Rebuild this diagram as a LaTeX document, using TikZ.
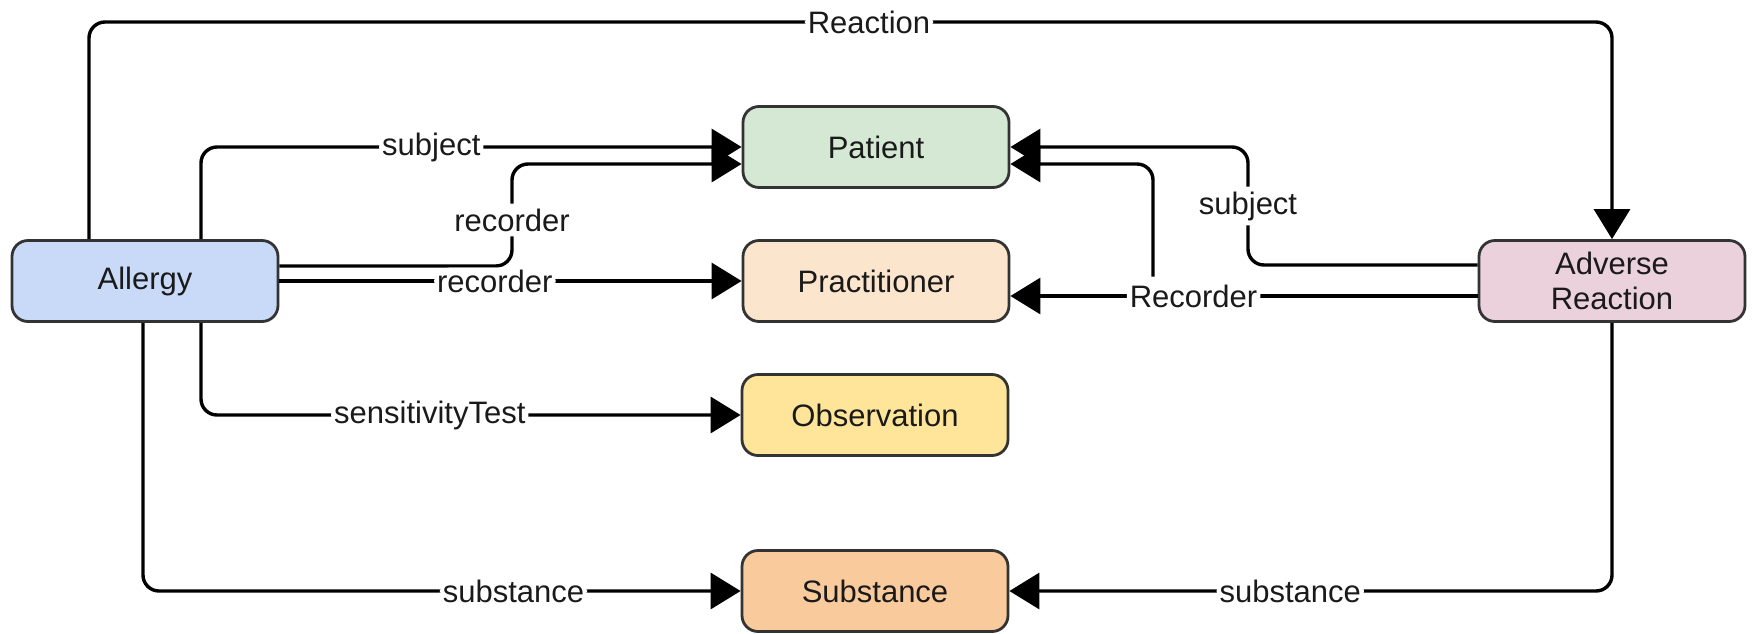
\documentclass[tikz,border=0pt]{standalone}
\usepackage{fontspec}
\setmainfont{Liberation Sans}
\usetikzlibrary{arrows.meta,calc}
\definecolor{cAllergy}{HTML}{C9DAF8}
\definecolor{cPatient}{HTML}{D5E8D4}
\definecolor{cPract}{HTML}{FCE5CD}
\definecolor{cObs}{HTML}{FFE599}
\definecolor{cSubst}{HTML}{F9CB9C}
\definecolor{cAdverse}{HTML}{EAD1DC}
\definecolor{cBorder}{HTML}{333333}
\definecolor{cText}{HTML}{1A1A1A}
\tikzset{
  entity/.style={draw=cBorder, line width=1.4pt, rounded corners=8pt,
    minimum width=133pt, minimum height=40.5pt, inner sep=0pt,
    align=center, text=cText, font=\fontsize{15.5}{17.5}\selectfont},
  conn/.style={draw=black, line width=1.7pt, rounded corners=8pt,
    -{Triangle[length=15pt,width=18pt]}},
  lbl/.style={fill=white, inner xsep=1.5pt, inner ysep=2.5pt, text=cText,
    font=\fontsize{15.5}{17.5}\selectfont}
}
\begin{document}
\begin{tikzpicture}[x=0.5pt,y=-0.5pt]
\useasboundingbox (0,0) rectangle (1752,633);
\node[entity, fill=cAllergy] (allergy) at (145,281) {Allergy};
\node[entity, fill=cPatient] (patient) at (876,147) {Patient};
\node[entity, fill=cPract] (pract) at (876,281) {Practitioner};
\node[entity, fill=cObs] (obs) at (875,415) {Observation};
\node[entity, fill=cSubst] (subst) at (875,591) {Substance};
\node[entity, fill=cAdverse] (adverse) at (1612,281) {Adverse\\Reaction};

% Reaction
\coordinate (rtop) at (869,22);
\draw[conn] ($(allergy.north)+(-56,0)$) |- (rtop) node[lbl,inner ysep=1pt]{Reaction} -| (adverse.north);
% subject Allergy -> Patient
\draw[conn] ($(allergy.north)+(56,0)$) |- node[lbl,inner ysep=1pt,pos=0.713]{subject} ($(patient.west)+(0,0)$);
% recorder Allergy -> Patient
\coordinate (rA1) at (512,266);
\coordinate (rA2) at (512,164);
\draw[conn] ($(allergy.east)+(0,-15)$) -- (rA1) -- node[lbl,pos=0.45]{recorder} (rA2) -- ($(patient.west)+(0,17)$);
% recorder Allergy -> Practitioner
\draw[conn] (allergy.east) -- node[lbl,inner ysep=1pt,pos=0.466]{recorder} (pract.west);
% sensitivityTest
\draw[conn] ($(allergy.south)+(56,0)$) |- node[lbl,inner ysep=1pt,pos=0.712]{sensitivityTest} (obs.west);
% substance Allergy -> Substance
\draw[conn] ($(allergy.south)+(-2,0)$) |- node[lbl,inner ysep=1pt,pos=0.81]{substance} (subst.west);
% subject Adverse -> Patient
\coordinate (sB1) at (1248,265);
\coordinate (sB2) at (1248,147);
\draw[conn] ($(adverse.west)+(0,-16)$) -- (sB1) -- node[lbl]{subject} (sB2) -- (patient.east);
% Recorder Adverse -> Patient (branch)
\coordinate (rB1) at (1153,296);
\coordinate (rB2) at (1153,164);
\draw[conn] ($(adverse.west)+(0,15)$) -- (rB1) -- (rB2) -- ($(patient.east)+(0,17)$);
% Recorder Adverse -> Practitioner
\draw[conn] ($(adverse.west)+(0,15)$) -- node[lbl,inner ysep=4pt,pos=0.608]{Recorder} ($(pract.east)+(0,15)$);
% substance Adverse -> Substance
\draw[conn] (adverse.south) |- node[lbl,inner ysep=1pt,pos=0.767]{substance} (subst.east);
\end{tikzpicture}
\end{document}
